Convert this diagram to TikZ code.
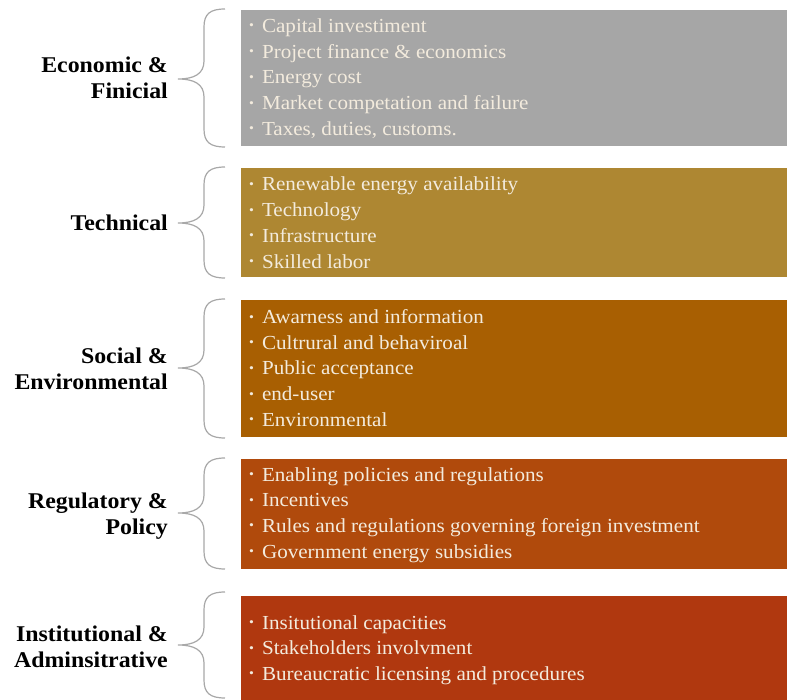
\documentclass[tikz,border=0pt]{standalone}
\usepackage{fontspec}
\setmainfont[FakeStretch=1.06]{Liberation Serif}
\definecolor{cA}{HTML}{A6A6A6}
\definecolor{cB}{HTML}{AE8732}
\definecolor{cC}{HTML}{A85F02}
\definecolor{cD}{HTML}{B04A0C}
\definecolor{cE}{HTML}{B0380F}
\definecolor{brc}{HTML}{A8A8A8}
\definecolor{txt}{HTML}{F3EBDD}
\tikzset{
  box/.style={rectangle, inner sep=0pt, anchor=north west, minimum width=546pt},
  items/.style={anchor=base west, inner sep=0pt, align=left, text=txt,
    font=\fontsize{19.9pt}{25.7pt}\selectfont},
  lab/.style={anchor=base east, inner sep=0pt, align=right,
    font=\fontsize{22.5pt}{26pt}\selectfont\bfseries},
  brace/.style={draw=brc, line width=1.2pt}
}
\newcommand{\bul}{{\fontsize{13pt}{13pt}\selectfont\raisebox{2.5pt}{•}}\hspace{8pt}}
\newcommand{\mybrace}[3]{% top, bottom, mid
  \draw[brace] (225,#1) .. controls (210,#1) and (204,#1+5) .. (204,#1+18)
    -- (204,#3-18) .. controls (204,#3-5) and (194,#3) .. (178,#3)
    .. controls (194,#3) and (204,#3+5) .. (204,#3+18)
    -- (204,#2-18) .. controls (204,#2-5) and (210,#2) .. (225,#2);}
\begin{document}
\begin{tikzpicture}[x=1pt,y=-1pt]
\useasboundingbox (0,0) rectangle (787,700);
% boxes
\node[box, fill=cA, minimum height=136pt] (b1) at (241,10) {};
\node[box, fill=cB, minimum height=109pt] (b2) at (241,168) {};
\node[box, fill=cC, minimum height=137pt] (b3) at (241,300) {};
\node[box, fill=cD, minimum height=110pt] (b4) at (241,459) {};
\node[box, fill=cE, minimum height=104pt] (b5) at (241,596) {};
% items (anchor = baseline of the last line)
\node[items] (i1) at (249,135.3) {\bul Capital investiment\\\bul Project finance \& economics\\\bul Energy cost\\\bul Market competation and failure\\\bul Taxes, duties, customs.};
\node[items] (i2) at (249,268.1) {\bul Renewable energy availability\\\bul Technology\\\bul Infrastructure\\\bul Skilled labor};
\node[items] (i3) at (249,426.3) {\bul Awarness and information\\\bul Cultrural and behaviroal\\\bul Public acceptance\\\bul end-user\\\bul Environmental};
\node[items] (i4) at (249,558.1) {\bul Enabling policies and regulations\\\bul Incentives\\\bul Rules and regulations governing foreign investment\\\bul Government energy subsidies};
\node[items] (i5) at (249,680.4) {\bul Insitutional capacities\\\bul Stakeholders involvment\\\bul Bureaucratic licensing and procedures};
% labels (anchor = baseline of the last line)
\node[lab] (l1) at (168,99) {Economic \&\\Finicial};
\node[lab] (l2) at (168,231) {Technical};
\node[lab] (l3) at (168,389) {Social \&\\Environmental};
\node[lab] (l4) at (168,534) {Regulatory \&\\Policy};
\node[lab] (l5) at (168,667) {Institutional \&\\Adminsitrative};
% braces
\mybrace{9}{147}{79}
\mybrace{167}{278}{223}
\mybrace{299}{438}{368}
\mybrace{458}{569}{513}
\mybrace{592}{698}{645}
\end{tikzpicture}
\end{document}
